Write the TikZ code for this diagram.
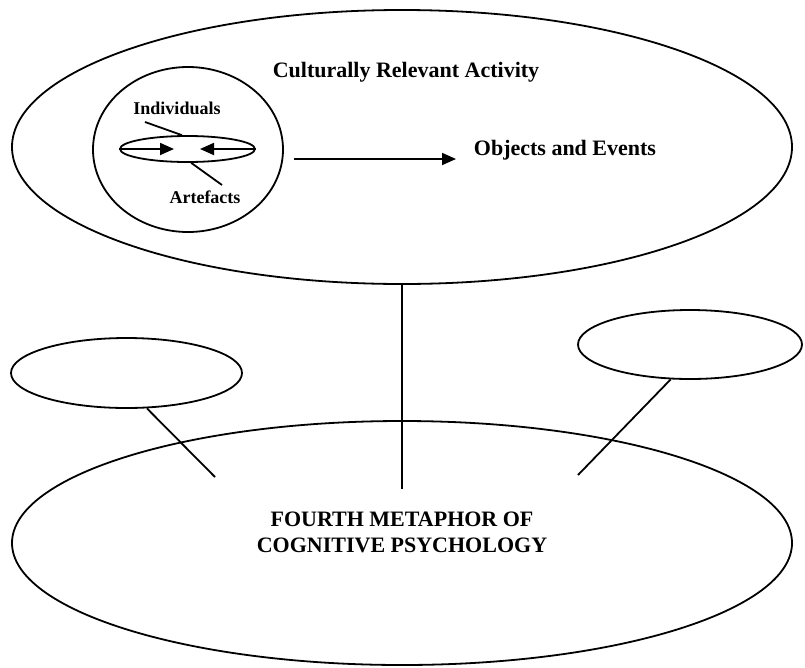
\documentclass[tikz,border=0pt]{standalone}
\usepackage{fontspec}
\setmainfont{Liberation Serif}
\usetikzlibrary{shapes.geometric,arrows.meta}
\begin{document}
\begin{tikzpicture}[x=1pt,y=-1pt,
  every path/.style={line width=1.8pt},
  oval/.style={draw,ellipse,inner sep=0pt,line width=1.8pt},
  lbl/.style={inner sep=0pt,font=\bfseries\fontsize{22}{26}\selectfont},
  smalllbl/.style={inner sep=0pt,font=\bfseries\fontsize{18}{21}\selectfont},
  tip/.style={-{Triangle[length=14pt,width=12pt]}}]
\useasboundingbox (0,0) rectangle (805,667);

% main ellipses
\node[oval,minimum width=780pt,minimum height=274pt] (act) at (402,147) {};
\node[oval,minimum width=780pt,minimum height=244pt] (met) at (402,543) {};
\node[oval,minimum width=231pt,minimum height=70pt] (ls) at (126.5,373) {};
\node[oval,minimum width=224pt,minimum height=69pt] (rs) at (690,344.5) {};

% inner circle with the individual/artefact system
\node[oval,minimum width=190pt,minimum height=165pt] (circ) at (188,149.5) {};
\node[oval,minimum width=135pt,minimum height=26pt] (flat) at (187.5,149) {};

% labels
\node[lbl] (title) at (406,72) {Culturally Relevant Activity};
\node[lbl,anchor=west] (obj) at (473,150) {Objects and Events};
\node[smalllbl] (ind) at (177,108) {Individuals};
\node[smalllbl] (art) at (205,197) {Artefacts};
\node[lbl,align=center] (fourth) at (402,532) {FOURTH METAPHOR OF\\COGNITIVE PSYCHOLOGY};

% connector end points
\coordinate (lt) at (174,149);
\coordinate (rt) at (200,149);
\coordinate (a1) at (294,159);
\coordinate (a2) at (456,159);
\coordinate (indA) at (145,122);
\coordinate (artA) at (222,185);
\coordinate (vend) at (402,489);
\coordinate (lend) at (215,477);
\coordinate (rend) at (578,475);

% arrows
\draw[tip] (flat.west) -- (lt);
\draw[tip] (flat.east) -- (rt);
\draw[tip] (a1) -- (a2);

% pointer lines
\draw (indA) -- (flat.112);
\draw (flat.-75) -- (artA);

% links to the central metaphor
\draw (act.south) -- (vend);
\draw (ls.-60) -- (lend);
\draw (rs.-119) -- (rend);
\end{tikzpicture}
\end{document}
